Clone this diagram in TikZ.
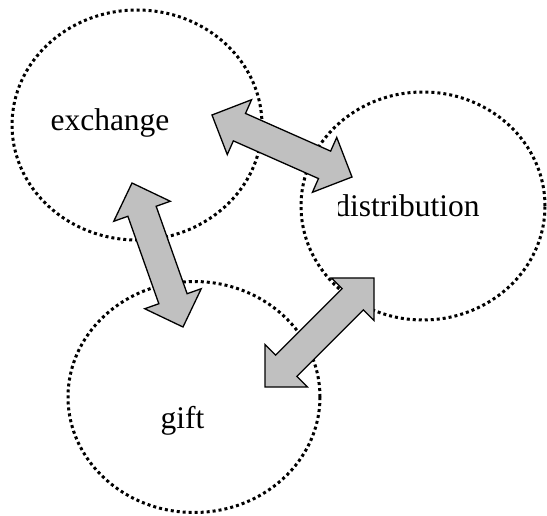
\documentclass[tikz,border=0pt]{standalone}
\usepackage{fontspec}
\setmainfont{Liberation Serif}
\usetikzlibrary{calc,shapes.geometric}
\tikzset{
  dotellipse/.style={ellipse, draw=black, line width=3pt, dash pattern=on 3pt off 3pt, inner sep=0pt, outer sep=0pt},
  lbl/.style={anchor=base, inner sep=0pt, font=\fontsize{31.5}{36}\selectfont},
  blockarrow/.style={draw=black, fill={rgb,255:red,192;green,192;blue,192}, line width=1.3pt, line join=miter}
}
\newcommand{\dblarr}[2]{%
  \draw[blockarrow] (#1)
    -- ($(#1)!30pt!(#2)!30pt!90:(#2)$)
    -- ($(#1)!30pt!(#2)!15pt!90:(#2)$)
    -- ($(#2)!30pt!(#1)!15pt!-90:(#1)$)
    -- ($(#2)!30pt!(#1)!30pt!-90:(#1)$)
    -- (#2)
    -- ($(#2)!30pt!(#1)!30pt!90:(#1)$)
    -- ($(#2)!30pt!(#1)!15pt!90:(#1)$)
    -- ($(#1)!30pt!(#2)!15pt!-90:(#2)$)
    -- ($(#1)!30pt!(#2)!30pt!-90:(#2)$)
    -- cycle;}
\begin{document}
\begin{tikzpicture}[x=1pt,y=-1pt]
\useasboundingbox (0,0) rectangle (547,516);
% ellipses
\node[dotellipse, minimum width=250pt, minimum height=230pt] (exE) at (137,125) {};
\node[dotellipse, minimum width=244pt, minimum height=228pt] (diE) at (423,206) {};
\node[dotellipse, minimum width=252pt, minimum height=231pt] (giE) at (194,397) {};
% labels
\node[lbl] (exT) at (110,131) {exchange};
\begin{scope}
  \clip (338,150) rectangle (547,240);
  \node[lbl] (diT) at (407,217) {distribution};
\end{scope}
\node[lbl] (giT) at (182.5,428) {gift};
% arrow end points
\coordinate (a1) at (212,115);
\coordinate (b1) at (352,177);
\coordinate (a2) at (132,183);
\coordinate (b2) at (183,327);
\coordinate (a3) at (374,278);
\coordinate (b3) at (265,387);
\dblarr{a1}{b1}
\dblarr{a2}{b2}
\dblarr{a3}{b3}
\end{tikzpicture}
\end{document}
